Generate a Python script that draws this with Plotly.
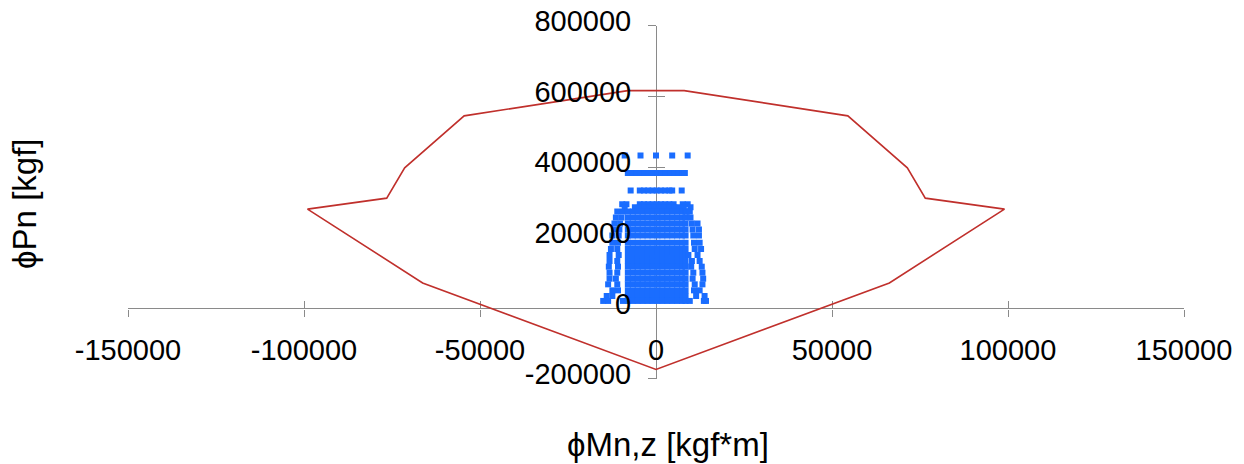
import plotly.graph_objects as go

# ---- interaction envelope (kgf*m, kgf) ----
env_m = [-8000, -54500, -71400, -76500, -99000, -66300, 0, 66300, 99000, 76500, 71400, 54500, 8000, -8000]
env_p = [616500, 545000, 398000, 312000, 281000, 72000, -173000, 72000, 281000, 312000, 398000, 545000, 616500, 616500]

# ---- load points (rows of equal Pn) ----
core_m = [-8000, -6600, -5200, -3800, -2400, -1000, 400, 1800, 3200, 4600, 6000, 7400, 8400]
row_p = [433000, 383000, 334000, 295000, 286000, 274000, 257000, 240000, 223000, 206000,
         186000, 168000, 151000, 134000, 118000, 101000, 84000, 68000, 51000, 35000, 21000]
row_left = [
    [-8900, -4400, 0, 4600, 9000],
    [-8000, -6800, -5600, -4400, -3200, -2000, -800, 400, 1600, 2800, 4000, 5200, 6400, 7600, 8200],
    [-7200, -4600, -3400, -2200, -1000, 200, 1400, 2600, 3800, 4600, 7300],
    [-9600, -8400, -4600, -3400, -2200, -1000, 200, 1400, 2600, 3800, 5000, 7600, 9000],
    [-8900, -6000, -4600, -3200, -1800, -400, 1000, 2400, 3800, 5200, 6600, 7900, 9800],
    [-11000, -9400],
    [-11400, -9800],
    [-11800, -10200],
    [-12000, -10400],
    [-12400, -10600],
    [-12400, -10800],
    [-12800, -11000],
    [-13200, -10600],
    [-13200, -11000],
    [-13400, -10800],
    [-13200, -11000],
    [-13200, -11400],
    [-13600, -11000],
    [-12400, -10800],
    [-14000, -12400],
    [-15000, -13600, -9400],
]
row_has_core = [False, False, False, False, False, True, True, True, True, True, True,
                True, True, True, True, True, True, True, True, True, True]
row_right = [
    [], [], [], [], [],
    [8800, 9600],
    [9800],
    [10200, 11800],
    [10400, 12200],
    [10600, 12200],
    [10800, 12400],
    [11000, 12800],
    [9200, 11800],
    [10200, 12400],
    [10000, 13000],
    [10600, 13200],
    [10400, 13400],
    [11000, 13200],
    [10800, 12400],
    [11400, 13800],
    [9600, 13600, 14200],
]

# ---- axes ----
x_ticks = [-150000, -100000, -50000, 0, 50000, 100000, 150000]
x_tick_labels = ["-150000", "-100000", "-50000", "0", "50000", "100000", "150000"]
y_ticks = [-200000, 0, 200000, 400000, 600000, 800000]
y_tick_labels = ["-200000", "0", "200000", "400000", "600000", "800000"]
x_title = "ϕMn,z [kgf*m]"
y_title = "ϕPn [kgf]"

pts_m, pts_p = [], []
for p, left, core, right in zip(row_p, row_left, row_has_core, row_right):
    xs = left + (core_m if core else []) + right
    pts_m += xs
    pts_p += [p] * len(xs)

FONT = "Liberation Sans, Arial, sans-serif"
AX = "#8a8a8a"

W, H = 1244, 464
M_L, M_R, M_T, M_B = 128, 60, 5, 85
MAIN_H = 358                      # pixel height of the data area
area_h = H - M_T - M_B            # full plotting area (a bit taller, room for labels)
main_top = MAIN_H / area_h

xr = [x_ticks[0], x_ticks[-1]]
yr = [y_ticks[0], y_ticks[-1]]
per_px = (yr[1] - yr[0]) / MAIN_H
lift = 5 * per_px                 # raise y tick labels ~5 px
y3_range = [yr[0] - lift, yr[0] - lift + area_h * per_px]
ypos0 = (0 - yr[0]) / (yr[1] - yr[0]) * main_top
xpos0 = (0 - xr[0]) / (xr[1] - xr[0])

fig = go.Figure()
fig.add_trace(go.Scatter(x=env_m, y=env_p, mode="lines",
                         line=dict(color="#c0302c", width=1.6), hoverinfo="skip"))
fig.add_trace(go.Scatter(x=pts_m, y=pts_p, mode="markers",
                         marker=dict(symbol="square", size=6, color="#1a6dff", line=dict(width=0))))
fig.add_trace(go.Scatter(x=[], y=[], xaxis="x2", yaxis="y2", mode="markers"))
fig.add_trace(go.Scatter(x=[], y=[], xaxis="x2", yaxis="y3", mode="markers"))

common = dict(showgrid=False, zeroline=False, layer="below traces", fixedrange=True)

fig.update_layout(
    width=W, height=H,
    margin=dict(l=M_L, r=M_R, t=M_T, b=M_B),
    paper_bgcolor="white", plot_bgcolor="rgba(0,0,0,0)",
    showlegend=False,
    font=dict(family=FONT, size=29, color="black"),
    xaxis=dict(range=xr, anchor="free", position=ypos0, tickmode="array",
               tickvals=x_ticks, ticktext=x_tick_labels, ticks="outside", ticklen=7,
               tickcolor=AX, tickwidth=1, showline=True, linecolor=AX, linewidth=1.3,
               ticklabelstandoff=9, tickfont=dict(size=29), **common),
    yaxis=dict(range=yr, domain=[0, main_top], anchor="free", position=xpos0, tickmode="array",
               tickvals=y_ticks, ticks="outside", ticklen=8,
               tickcolor=AX, tickwidth=1, showline=True, linecolor=AX, linewidth=1.3,
               showticklabels=False, **common),
    xaxis2=dict(range=xr, overlaying="x", anchor="free", position=ypos0, tickmode="array",
                tickvals=x_ticks, ticks="inside", ticklen=7, tickcolor=AX, tickwidth=1,
                showticklabels=False, showline=False, **common),
    yaxis2=dict(range=yr, overlaying="y", anchor="free", position=xpos0, tickmode="array",
                tickvals=y_ticks, ticks="inside", ticklen=8, tickcolor=AX, tickwidth=1,
                showticklabels=False, showline=False, **common),
    yaxis3=dict(range=y3_range, domain=[0, 1], anchor="free", position=xpos0,
                tickmode="array", tickvals=y_ticks, ticktext=y_tick_labels, ticks="outside",
                ticklen=8, tickcolor="rgba(0,0,0,0)", showline=False,
                ticklabelstandoff=11, tickfont=dict(size=29), **common),
    annotations=[
        dict(text=x_title, xref="paper", yref="paper", x=0.511, y=-66 / area_h,
             showarrow=False, font=dict(size=33), xanchor="center", yanchor="middle"),
        dict(text=y_title, xref="paper", yref="paper", x=-0.098, y=(MAIN_H - 181) / area_h,
             textangle=-90, showarrow=False, font=dict(size=33),
             xanchor="center", yanchor="middle"),
    ],
)

fig.write_html("out.html")
